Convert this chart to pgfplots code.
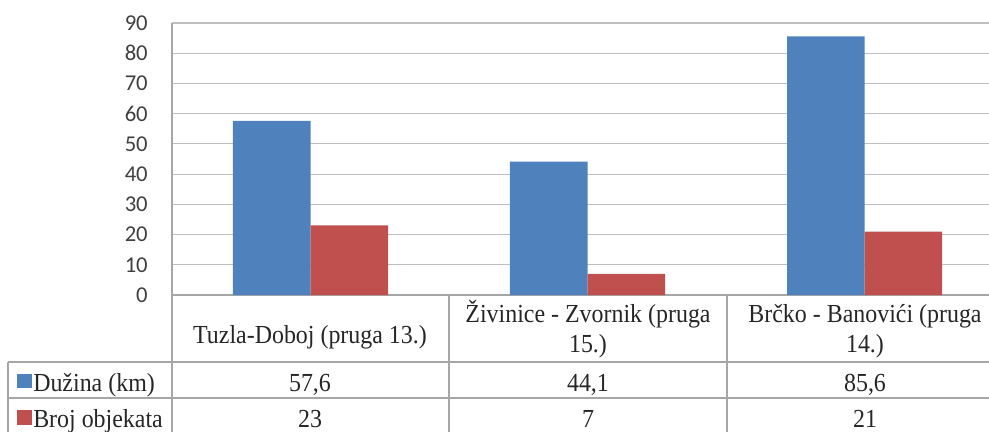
\documentclass[border=0pt]{standalone}
\usepackage{pgfplots}
\pgfplotsset{compat=1.18}
\usepackage{graphicx}
\usepackage{fontspec}
\setmainfont{Liberation Serif}
\newfontfamily\calibri{Carlito}

\definecolor{xlblue}{HTML}{4F81BD}
\definecolor{xlred}{HTML}{C0504D}
\definecolor{gridgray}{HTML}{BFBFBF}
\definecolor{tblgray}{HTML}{A6A6A6}

\newcommand{\sx}[1]{\scalebox{0.92}[1]{#1}}

\begin{document}
\begin{tikzpicture}
\useasboundingbox (0,0) rectangle (741.75pt,-324pt);
\begin{axis}[
    at={(129pt,-221.25pt)}, anchor=south west,
    scale only axis,
    width=612.75pt, height=204pt,
    ybar,
    xmin=-0.5, xmax=2.449,
    ymin=0, ymax=90,
    ytick={0,10,...,90},
    xtick=\empty,
    ymajorgrids,
    grid style={draw=gridgray, line width=0.9pt},
    axis x line*=bottom,
    axis y line*=left,
    axis line style={draw=tblgray, line width=0.8pt, -},
    major tick length=0pt,
    /pgf/number format/assume math mode=true,
    yticklabel style={font=\calibri\fontsize{17}{20}\selectfont, text=black!75,
        anchor=east, inner sep=0pt, xshift=-18pt},
    bar width=0.28,
    clip=false,
]
\addplot[draw=none, fill=xlblue, bar shift=-0.14] coordinates {(0,57.6) (1,44.1) (2,85.6)};
\addplot[draw=none, fill=xlred, bar shift=0.14] coordinates {(0,23) (1,7) (2,21)};
\end{axis}

\begin{scope}[x=0.75pt, y=-0.75pt]
  \draw[tblgray, line width=0.8pt]
    (172,295) -- (172,432)
    (449,295) -- (449,432)
    (727,295) -- (727,432)
    (8,362) -- (989,362)
    (8,398) -- (989,398)
    (8,362) -- (8,432);
  \begin{scope}[every node/.style={font=\fontsize{19.5}{22.5}\selectfont, text=black!85, inner sep=0pt}]
    \node[anchor=base] at (310,343) {\sx{Tuzla-Doboj (pruga 13.)}};
    \node[anchor=base, align=center] at (588,352) {\sx{Živinice - Zvornik (pruga}\\\sx{15.)}};
    \node[anchor=base, align=center] at (865,352) {\sx{Brčko - Banovići (pruga}\\\sx{14.)}};
    \fill[xlblue] (17,374) rectangle (32,388);
    \fill[xlred] (17,410) rectangle (32,425);
    \node[anchor=base west] at (33,391) {\sx{Dužina (km)}};
    \node[anchor=base west] at (33,427) {\sx{Broj objekata}};
    \node[anchor=base] at (310,391) {\sx{57,6}};
    \node[anchor=base] at (588,391) {\sx{44,1}};
    \node[anchor=base] at (865,391) {\sx{85,6}};
    \node[anchor=base] at (310,427) {\sx{23}};
    \node[anchor=base] at (588,427) {\sx{7}};
    \node[anchor=base] at (865,427) {\sx{21}};
  \end{scope}
\end{scope}
\end{tikzpicture}
\end{document}
